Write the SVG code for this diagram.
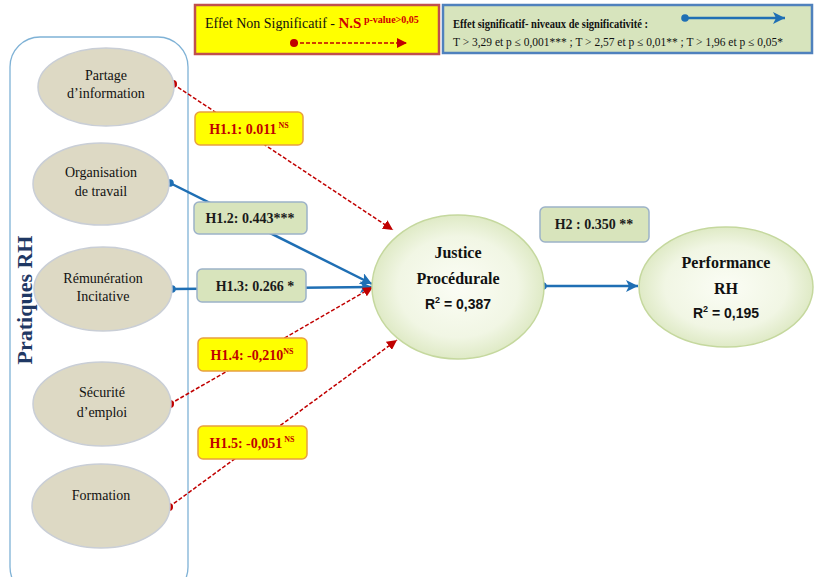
<svg xmlns="http://www.w3.org/2000/svg" width="818" height="577" viewBox="0 0 818 577">
<style>
.nd{fill:#ddd9c4;stroke:#c9ced6;stroke-width:1.5}
.big{fill:url(#gg);stroke:#c5d89e;stroke-width:1.5}
.nt{font-family:"Liberation Serif",serif;font-size:14px;fill:#111;text-anchor:middle}
.bt{font-family:"Liberation Serif",serif;font-size:16px;font-weight:bold;fill:#111;text-anchor:middle}
.rt{font-family:"Liberation Sans Narrow","Liberation Sans",sans-serif;font-size:14px;font-weight:bold;fill:#111;text-anchor:middle}
.ns{fill:#ffff00;stroke:#e8a040;stroke-width:1.5}
.sg{fill:#d8e4bc;stroke:#9cb2c8;stroke-width:1.5}
.lt{font-family:"Liberation Serif",serif;font-size:14px;font-weight:bold;text-anchor:middle}
.red{stroke:#c00000;stroke-width:1.5;stroke-dasharray:4,2;fill:none}
.blue{stroke:#1f6fb4;stroke-width:2.5;fill:none}
</style>
<defs>
<radialGradient id="gg" cx="50%" cy="50%" r="50%">
<stop offset="0" stop-color="#fbfdf5"/>
<stop offset="0.7" stop-color="#f1f6e4"/>
<stop offset="1" stop-color="#dfeac6"/>
</radialGradient>
<marker id="ra" markerUnits="userSpaceOnUse" markerWidth="12" markerHeight="10" refX="10" refY="5" orient="auto"><path d="M0,0 L10,5 L0,10 z" fill="#c00000"/></marker>
<marker id="rd" markerUnits="userSpaceOnUse" markerWidth="10" markerHeight="10" refX="5" refY="5"><circle cx="5" cy="5" r="4" fill="#c00000"/></marker>
<marker id="ba" markerUnits="userSpaceOnUse" markerWidth="14" markerHeight="12" refX="12" refY="6" orient="auto"><path d="M0,0 L12,6 L0,12 L3,6 z" fill="#1f6fb4"/></marker>
<marker id="bd" markerUnits="userSpaceOnUse" markerWidth="10" markerHeight="10" refX="5" refY="5"><circle cx="5" cy="5" r="3.8" fill="#1f6fb4"/></marker>
</defs>
<rect width="818" height="577" fill="#fff"/>

<g id="legend-ns">
<rect x="195" y="5" width="244" height="49" fill="#ffff00" stroke="#c0504d" stroke-width="2.5"/>
<text x="205" y="28" font-family="Liberation Serif,serif" font-size="14" fill="#111">Effet Non Significatif - <tspan fill="#d00000" font-weight="bold" font-size="15">N.S</tspan><tspan fill="#d00000" font-weight="bold" font-size="10" dy="-5"> p-value&gt;0,05</tspan></text>
<line x1="294" y1="43" x2="407" y2="43" class="red" marker-start="url(#rd)" marker-end="url(#ra)"/>
</g>
<g id="legend-sig">
<rect x="443" y="5" width="369" height="48" fill="#d7e4bd" stroke="#4f81bd" stroke-width="2.5"/>
<text x="453" y="28" font-family="Liberation Serif,serif" font-size="12" font-weight="bold" fill="#111" textLength="195" lengthAdjust="spacingAndGlyphs">Effet significatif- niveaux de significativité :</text>
<text x="453" y="46" font-family="Liberation Serif,serif" font-size="12" fill="#111" textLength="330" lengthAdjust="spacingAndGlyphs">T &gt; 3,29 et   p ≤ 0,001***   ; T &gt; 2,57 et   p ≤ 0,01**   ; T &gt; 1,96 et   p ≤ 0,05*</text>
<line x1="685" y1="18" x2="785" y2="18" class="blue" marker-start="url(#bd)" marker-end="url(#ba)"/>
</g>

<g id="pratiques-rh">
<rect x="10" y="37" width="178" height="560" rx="30" ry="30" fill="none" stroke="#7fb2d6" stroke-width="1.3"/>
<text transform="translate(32,300) rotate(-90)" x="0" y="0" text-anchor="middle" font-family="Liberation Serif,serif" font-size="22" font-weight="bold" fill="#1f3864">Pratiques RH</text>
</g>

<g id="connectors">
<line x1="173" y1="84" x2="393" y2="230" class="red" marker-start="url(#rd)" marker-end="url(#ra)"/>
<line x1="170" y1="183" x2="372" y2="284" class="blue" marker-start="url(#bd)" marker-end="url(#ba)"/>
<line x1="172" y1="289" x2="372" y2="287" class="blue" marker-start="url(#bd)" marker-end="url(#ba)"/>
<line x1="170" y1="404" x2="373" y2="287" class="red" marker-start="url(#rd)" marker-end="url(#ra)"/>
<line x1="169" y1="507" x2="397" y2="340" class="red" marker-start="url(#rd)" marker-end="url(#ra)"/>
<line x1="543" y1="286" x2="638" y2="286" class="blue" marker-start="url(#bd)" marker-end="url(#ba)"/>
<rect x="195" y="112" width="108" height="33" rx="5" class="ns"/>
<text x="249" y="134" class="lt" fill="#c00000">H1.1: 0.011<tspan font-size="8" dy="-6"> NS</tspan></text>
<rect x="194" y="202" width="113" height="32" rx="5" class="sg"/>
<text x="250" y="223" class="lt" fill="#1a1a1a">H1.2: 0.443***</text>
<rect x="197" y="269" width="109" height="33" rx="5" class="sg"/>
<text x="255" y="291" class="lt" fill="#1a1a1a">H1.3: 0.266 *</text>
<rect x="198" y="338" width="109" height="33" rx="5" class="ns"/>
<text x="252" y="360" class="lt" fill="#c00000">H1.4: -0,210<tspan font-size="8" dy="-6">NS</tspan></text>
<rect x="198" y="426" width="109" height="33" rx="5" class="ns"/>
<text x="252" y="448" class="lt" fill="#c00000">H1.5: -0,051<tspan font-size="8" dy="-6"> NS</tspan></text>
<rect x="540" y="207" width="109" height="35" rx="5" class="sg"/>
<text x="594" y="229" class="lt" fill="#1a1a1a">H2 : 0.350 **</text>
</g>

<g id="partage">
<ellipse cx="106" cy="87" rx="68" ry="39" class="nd"/>
<text x="106" y="80" class="nt">Partage</text>
<text x="106" y="98" class="nt">d’information</text>
</g>
<g id="organisation">
<ellipse cx="101" cy="184" rx="68" ry="41" class="nd"/>
<text x="101" y="177" class="nt">Organisation</text>
<text x="101" y="196" class="nt">de travail</text>
</g>
<g id="remuneration">
<ellipse cx="103" cy="289" rx="69" ry="42" class="nd"/>
<text x="103" y="283" class="nt">Rémunération</text>
<text x="103" y="301" class="nt">Incitative</text>
</g>
<g id="securite">
<ellipse cx="102" cy="404" rx="69" ry="42" class="nd"/>
<text x="102" y="397" class="nt">Sécurité</text>
<text x="102" y="417" class="nt">d’emploi</text>
</g>
<g id="formation">
<ellipse cx="101" cy="506" rx="69" ry="42" class="nd"/>
<text x="101" y="500" class="nt">Formation</text>
</g>
<g id="justice">
<ellipse cx="458" cy="287" rx="86" ry="72" class="big"/>
<text x="458" y="258" class="bt">Justice</text>
<text x="458" y="284" class="bt">Procédurale</text>
<text x="458" y="309" class="rt">R<tspan font-size="9" dy="-6">2</tspan><tspan dy="6"> = 0,387</tspan></text>
</g>
<g id="performance">
<ellipse cx="726" cy="287" rx="87" ry="60" class="big"/>
<text x="726" y="268" class="bt">Performance</text>
<text x="726" y="294" class="bt">RH</text>
<text x="726" y="318" class="rt">R<tspan font-size="9" dy="-6">2</tspan><tspan dy="6"> = 0,195</tspan></text>
</g>
</svg>
